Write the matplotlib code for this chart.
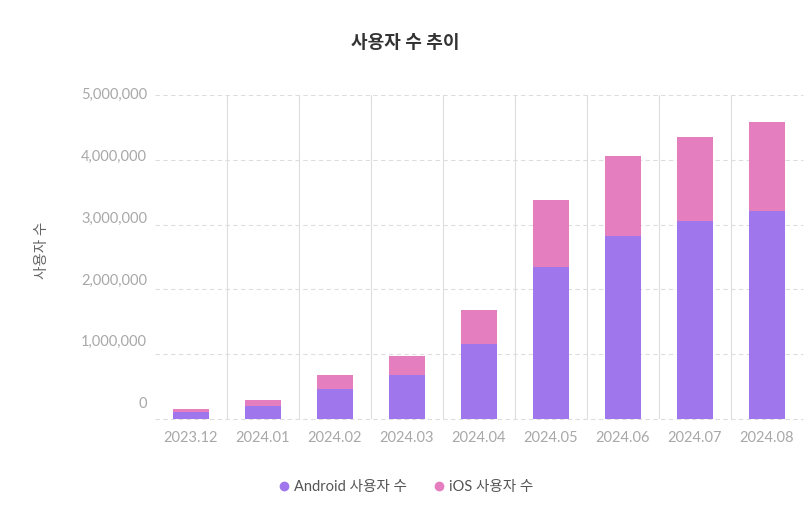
import matplotlib
matplotlib.use('Agg')
import matplotlib.pyplot as plt
import numpy as np

months = ['2023.12', '2024.01', '2024.02', '2024.03', '2024.04',
          '2024.05', '2024.06', '2024.07', '2024.08']
android = [105000, 200000, 465000, 680000, 1160000, 2350000, 2820000, 3060000, 3210000]
ios = [45000, 93000, 215000, 290000, 520000, 1030000, 1240000, 1290000, 1370000]
yticks = [0, 1000000, 2000000, 3000000, 4000000, 5000000]

plt.rcParams['font.family'] = ['Lato', 'Noto Sans CJK KR', 'DejaVu Sans']

fig = plt.figure(figsize=(8.11, 5.14), dpi=100)
ax = fig.add_axes([155 / 811, 95 / 514, 648 / 811, 324 / 514])

x = np.arange(len(months))
ax.bar(x, android, width=0.5, color='#a076ec', label='Android 사용자 수', zorder=3)
ax.bar(x, ios, width=0.5, bottom=android, color='#e57ebf', label='iOS 사용자 수', zorder=3)

ax.set_xlim(-0.5, len(months) - 0.5)
ax.set_ylim(0, 5000000)

# horizontal dashed grid, vertical separators between categories
for v in yticks:
    ax.axhline(v, color='#dddddd', lw=0.8, ls=(0, (4, 3)), zorder=1, clip_on=False)
for b in x[:-1] + 0.5:
    ax.axvline(b, color='#dddddd', lw=0.8, zorder=1)

for s in ax.spines.values():
    s.set_visible(False)

ax.set_xticks(x)
ax.set_xticklabels(months, fontsize=10.5, color='#a8a8a8')
ax.tick_params(axis='x', length=0, pad=9)
ax.set_yticks([])

# y labels sit slightly off the gridlines in the original
top = yticks[-1]
for v in yticks:
    ypos = top - (top - v) * (309 / 324)
    ax.text(-0.012, ypos, f'{v:,}', transform=ax.get_yaxis_transform(),
            ha='right', va='center', fontsize=10.5, color='#a8a8a8')

fig.text(42 / 811, 1 - 250 / 514, '사용자 수', rotation=90, ha='center', va='center',
         fontsize=10.5, color='#666666')
fig.text(0.5, 1 - 42 / 514, '사용자 수 추이', ha='center', va='center',
         fontsize=13, color='#333333', fontweight='bold')

handles = [plt.Line2D([], [], marker='o', ls='', color='#a076ec', markersize=6),
           plt.Line2D([], [], marker='o', ls='', color='#e57ebf', markersize=6)]
fig.legend(handles, ['Android 사용자 수', 'iOS 사용자 수'], loc='center',
           bbox_to_anchor=(0.5, 1 - 487 / 514), ncol=2, frameon=False,
           fontsize=10.5, labelcolor='#555555', handlelength=0.8,
           handletextpad=0.3, columnspacing=1.8)

fig.savefig('out.png', dpi=100)
